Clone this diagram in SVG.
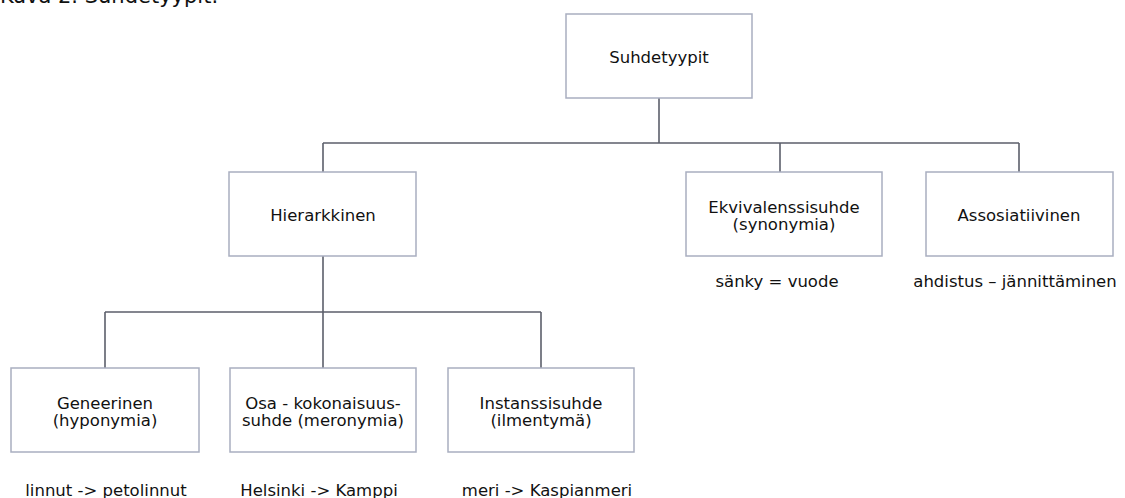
<svg xmlns="http://www.w3.org/2000/svg" width="1125" height="498" viewBox="0 0 1125 498">
<style>
.box{fill:#ffffff;stroke:#a9aec0;stroke-width:1.5}
.conn{fill:none;stroke:#5c5f6b;stroke-width:1.6}
text{font-family:"DejaVu Sans",Verdana,sans-serif;font-size:16.5px;fill:#111111;text-anchor:middle}
.title{font-size:21px;text-anchor:start}
</style>
<rect width="1125" height="498" fill="#ffffff"/>
<text class="title" x="0" y="3">Kuva 2. Suhdetyypit.</text>
<g id="connectors">
<path class="conn" d="M659 98 V143 M323 143 H1019 M323 143 V172 M780 143 V172 M1019 143 V172"/>
<path class="conn" d="M323 256 V312 M105 312 H541 M105 312 V368 M323 312 V368 M541 312 V368"/>
</g>
<g id="n-suhdetyypit">
<rect class="box" x="566" y="14" width="186" height="84"/>
<text x="659" y="63">Suhdetyypit</text>
</g>
<g id="n-hierarkkinen">
<rect class="box" x="229" y="172" width="187" height="84"/>
<text x="323" y="221">Hierarkkinen</text>
</g>
<g id="n-ekvivalenssisuhde">
<rect class="box" x="686" y="172" width="196" height="84"/>
<text x="784" y="213">Ekvivalenssisuhde</text>
<text x="784" y="230">(synonymia)</text>
</g>
<g id="n-assosiatiivinen">
<rect class="box" x="926" y="172" width="187" height="84"/>
<text x="1019" y="221">Assosiatiivinen</text>
</g>
<g id="n-geneerinen">
<rect class="box" x="11" y="368" width="188" height="84"/>
<text x="105" y="409">Geneerinen</text>
<text x="105" y="426">(hyponymia)</text>
</g>
<g id="n-osa">
<rect class="box" x="230" y="368" width="186" height="84"/>
<text x="323" y="409">Osa - kokonaisuus-</text>
<text x="323" y="426">suhde (meronymia)</text>
</g>
<g id="n-instanssi">
<rect class="box" x="448" y="368" width="186" height="84"/>
<text x="541" y="409">Instanssisuhde</text>
<text x="541" y="426">(ilmentymä)</text>
</g>
<g id="examples">
<text x="777" y="287">sänky = vuode</text>
<text x="1015" y="287">ahdistus – jännittäminen</text>
<text x="106" y="496">linnut -&gt; petolinnut</text>
<text x="319" y="496">Helsinki -&gt; Kamppi</text>
<text x="547" y="496">meri -&gt; Kaspianmeri</text>
</g>
</svg>
